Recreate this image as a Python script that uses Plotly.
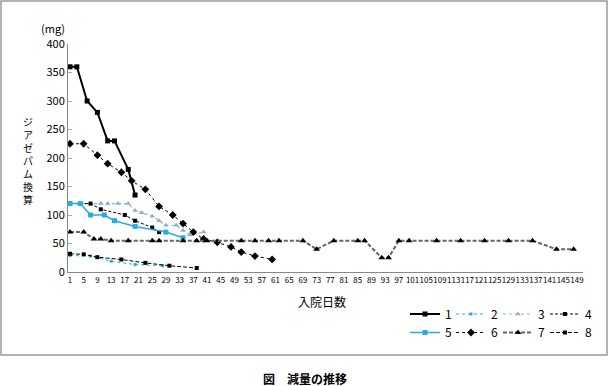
import plotly.graph_objects as go

# ---- data ----
s1_days = [1, 3, 6, 9, 12, 14, 18, 20]
s1_vals = [360, 360, 300, 280, 230, 230, 180, 135]

s2_days = [1, 7, 13, 20, 28]
s2_vals = [29, 28, 19, 13, 11]

s3_days = [1, 7, 10, 12, 15, 18, 20, 22, 25, 27, 29, 32, 34, 36, 40]
s3_vals = [120, 120, 120, 120, 120, 120, 108, 104, 98, 90, 82, 82, 73, 65, 70]

s4_days = [1, 7, 10, 17, 20, 25, 27]
s4_vals = [120, 120, 110, 100, 90, 78, 70]

s5_days = [1, 4, 7, 11, 14, 20, 29, 34]
s5_vals = [120, 120, 100, 100, 90, 80, 70, 60]

s6_days = [1, 5, 9, 12, 16, 19, 23, 27, 31, 34, 37, 40, 44, 48, 51, 55, 60]
s6_vals = [225, 225, 205, 190, 175, 160, 145, 115, 100, 85, 70, 58, 52, 44, 35, 28, 22]

s7_days = [1, 5, 8, 10, 13, 18, 25, 27, 34, 38, 41, 51, 55, 59, 62, 69, 73, 78,
           85, 87, 92, 94, 97, 100, 108, 115, 122, 129, 136, 143, 148]
s7_vals = [70, 70, 58, 58, 55, 55, 55, 55, 55, 55, 55, 55, 55, 55, 55, 55, 40, 55,
           55, 55, 25, 25, 55, 55, 55, 55, 55, 55, 55, 40, 40]

s8_days = [1, 5, 9, 16, 23, 30, 38]
s8_vals = [32, 31, 26, 22, 16, 11, 7]

x_ticks = list(range(1, 150, 4))
y_ticks = list(range(0, 401, 50))

series_names = ["1", "2", "3", "4", "5", "6", "7", "8"]

FONT = "Noto Sans CJK JP"
CYAN = "#29abe2"
STEEL = "#8eb0c8"

# plot-area geometry (pixels)
W, H = 609, 386
L, R, T, B = 68, 26, 44, 114
PW = W - L - R
PH = H - T - B


def px(xpix):
    return (xpix - L) / PW


def py(ypix):
    return (H - B - ypix) / PH


styles = [
    dict(x=s1_days, y=s1_vals, line=dict(color="black", width=2, dash="solid"),
         marker=dict(symbol="square", size=5, color="black")),
    dict(x=s2_days, y=s2_vals, line=dict(color=CYAN, width=1, dash="dot"),
         marker=dict(symbol="square", size=3, color=CYAN)),
    dict(x=s3_days, y=s3_vals, line=dict(color=STEEL, width=1.2, dash="dot"),
         marker=dict(symbol="triangle-up", size=5, color=STEEL)),
    dict(x=s4_days, y=s4_vals, line=dict(color="black", width=1, dash="3px,2px"),
         marker=dict(symbol="square", size=4, color="black")),
    dict(x=s5_days, y=s5_vals, line=dict(color=CYAN, width=1.5, dash="solid"),
         marker=dict(symbol="square", size=5, color=CYAN)),
    dict(x=s6_days, y=s6_vals, line=dict(color="black", width=1, dash="dot"),
         marker=dict(symbol="diamond", size=6, color="black")),
    dict(x=s7_days, y=s7_vals, line=dict(color="#666666", width=2, dash="4px,2px"),
         marker=dict(symbol="triangle-up", size=6, color="black")),
    dict(x=s8_days, y=s8_vals, line=dict(color="black", width=1, dash="4px,2px"),
         marker=dict(symbol="square", size=4, color="black")),
]

legend_keys = ["legend"] + [f"legend{i}" for i in range(2, 9)]
col_x = [405, 451, 498, 545]
row_y = [314, 332.5]

fig = go.Figure()
for i, (name, st) in enumerate(zip(series_names, styles)):
    fig.add_trace(go.Scatter(
        x=st["x"], y=st["y"], name=name, mode="lines+markers",
        line=st["line"], marker=st["marker"], legend=legend_keys[i],
    ))

legend_layout = {}
for i, key in enumerate(legend_keys):
    legend_layout[key] = dict(
        x=px(col_x[i % 4]), y=py(row_y[i // 4]), xref="paper", yref="paper",
        xanchor="left", yanchor="middle", orientation="h",
        font=dict(family=FONT, size=12, color="black"),
        bgcolor="rgba(0,0,0,0)", itemwidth=30,
    )

annotations = [
    dict(text="(mg)", x=px(53), y=py(28), font=dict(family=FONT, size=11, color="black")),
    dict(text="入院日数", x=px(322), y=py(301)),
    dict(text="<b>図　減量の推移</b>", x=px(305), y=py(378)),
    dict(text="<br>".join("ジアゼパム換算"), x=px(28), y=py(160),
         font=dict(family=FONT, size=10, color="black")),
]
for a in annotations:
    a.update(xref="paper", yref="paper", xanchor="center", yanchor="middle",
             showarrow=False)
    a.setdefault("font", dict(family=FONT, size=12, color="black"))

fig.update_layout(
    width=W, height=H,
    margin=dict(l=L, r=R, t=T, b=B, autoexpand=False),
    paper_bgcolor="white", plot_bgcolor="white",
    font=dict(family=FONT, color="black"),
    showlegend=True,
    annotations=annotations,
    shapes=[dict(type="rect", xref="paper", yref="paper",
                 x0=px(1), x1=px(607), y0=py(355), y1=py(1),
                 line=dict(color="#999999", width=1.5))],
    xaxis=dict(range=[0.42, 150.75], tickvals=x_ticks,
               ticktext=[str(v) for v in x_ticks], tickangle=0,
               showgrid=False, zeroline=False, showline=True,
               linecolor="#888888", linewidth=1, ticks="",
               tickfont=dict(family=FONT, size=8, color="black"),
               fixedrange=True),
    yaxis=dict(range=[0, 400], tickvals=y_ticks, showgrid=False, zeroline=False,
               showline=True, linecolor="#888888", linewidth=1,
               ticks="inside", ticklen=4, tickcolor="#aaaaaa",
               tickfont=dict(family=FONT, size=11, color="black"),
               fixedrange=True),
    **legend_layout,
)

fig.write_html("out.html", config={"displayModeBar": False},
               post_script="document.body.style.margin='0px';")
